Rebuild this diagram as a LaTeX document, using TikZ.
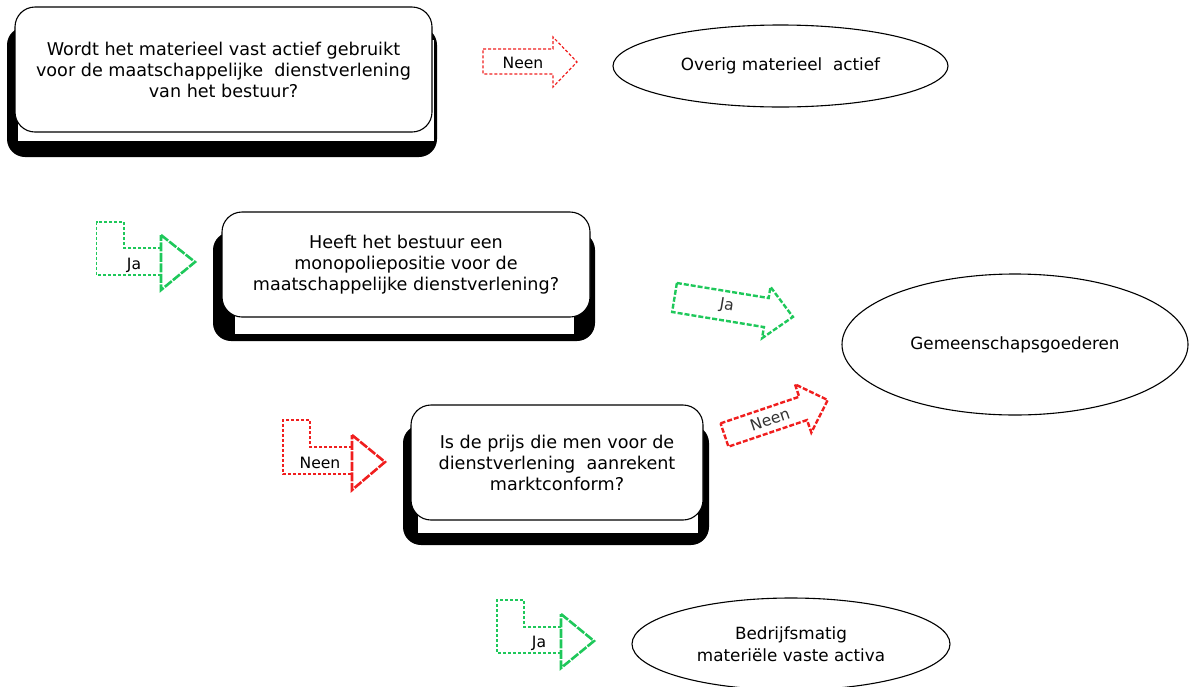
\documentclass[tikz,border=0pt]{standalone}
\usepackage{fontspec}
\setmainfont{DejaVu Sans}
\usetikzlibrary{shapes.geometric}
\definecolor{agreen}{RGB}{30,200,90}
\definecolor{ared}{RGB}{240,30,30}
\definecolor{lblgray}{RGB}{50,50,50}
\newcommand\myqfont{\fontsize{17.6}{21}\selectfont}
\newcommand\myefont{\fontsize{16.8}{21.5}\selectfont}
\newcommand\mylfont{\fontsize{15.6}{18}\selectfont}
\begin{document}
\begin{tikzpicture}[x=1pt,y=-1pt,
  shadowbox/.style={fill=black, rounded corners=18pt},
  qbox/.style={draw=black, line width=1.1pt, fill=white, rounded corners=20pt,
    align=center, inner sep=0pt, font=\myqfont},
  ans/.style={ellipse, draw=black, line width=1.1pt, fill=white, inner sep=0pt,
    align=center, font=\myefont},
  thinarr/.style={dash pattern=on 3pt off 2pt, line width=1.2pt},
  thickhead/.style={line width=2.6pt, dash pattern=on 9pt off 1.5pt, line join=miter},
  thickarr/.style={line width=2.4pt, dash pattern=on 5pt off 2pt, line join=miter},
  lbl/.style={font=\mylfont, inner sep=0pt, text=black},
  rlbl/.style={font=\mylfont, inner sep=0pt, text=lblgray}]
\useasboundingbox (0,0) rectangle (1189,686);
\clip (0,0) rectangle (1189,686);

% ---- question box 1 ----
\fill[shadowbox] (7,27) rectangle (437,157);
\fill[white] (18,40) rectangle (434,141);
\node[qbox, minimum width=417pt, minimum height=125pt] (q1) at (223.5,69.5)
  {Wordt het materieel vast actief gebruikt\\voor de maatschappelijke\ \ dienstverlening\\van het bestuur?};

% ---- question box 2 ----
\fill[shadowbox] (213,232) rectangle (595,341);
\fill[white] (235,300) rectangle (574,334);
\node[qbox, minimum width=368pt, minimum height=105pt] (q2) at (406,264.5)
  {Heeft het bestuur een\\monopoliepositie voor de\\maatschappelijke dienstverlening?};

% ---- question box 3 ----
\fill[shadowbox] (403,425) rectangle (709,545);
\fill[white] (418,500) rectangle (698,533);
\node[qbox, minimum width=292pt, minimum height=115pt] (q3) at (557,462.5)
  {Is de prijs die men voor de\\dienstverlening\ \ aanrekent\\marktconform?};

% ---- answers ----
\node[ans, minimum width=335pt, minimum height=82pt] (e1) at (780.5,66) {Overig materieel\ \ actief};
\node[ans, minimum width=346pt, minimum height=141pt] (e2) at (1015,344.5) {Gemeenschapsgoederen};
\node[ans, minimum width=318pt, minimum height=92pt] (e3) at (791,644) {Bedrijfsmatig\\materiële vaste activa};

% ---- top red arrow "Neen" ----
\draw[ared, thinarr, line join=miter] (483,49) -- (553,49) -- (553,37) -- (577,62) -- (553,87) -- (553,74) -- (483,74) -- cycle;
\node[lbl] (n1) at (523,63) {Neen};

% ---- green L arrow "Ja" (left) ----
\draw[agreen, thinarr] (161,248) -- (124,248) -- (124,222) -- (96.7,222) -- (96.7,275) -- (161,275);
\draw[agreen, thickhead] (161,235) -- (195,262) -- (161,290) -- cycle;
\node[lbl] (j1) at (134,265) {Ja};

% ---- red L arrow "Neen" ----
\draw[ared, thinarr] (352,447) -- (310,447) -- (310,420) -- (283,420) -- (283,474) -- (352,474);
\draw[ared, thickhead] (352,435) -- (385,462) -- (352,490) -- cycle;
\node[lbl] (n2) at (320,463) {Neen};

% ---- green L arrow "Ja" (bottom) ----
\draw[agreen, thinarr] (561,627) -- (524,627) -- (524,600) -- (497,600) -- (497,653) -- (561,653);
\draw[agreen, thickhead] (561,614) -- (594,641) -- (561,668) -- cycle;
\node[lbl] (j3) at (539,643) {Ja};

% ---- rotated green arrow "Ja" ----
\begin{scope}[shift={(674.5,297.5)}, rotate=-9.3]
  \draw[agreen, thickarr] (0,-14.7) -- (93,-14.7) -- (93,-26) -- (120,0) -- (93,26) -- (93,14.7) -- (0,14.7) -- cycle;
  \node[rlbl, rotate=-9.3] (j2) at (53,0) {Ja};
\end{scope}

% ---- rotated red arrow "Neen" ----
\begin{scope}[shift={(724.5,435)}, rotate=18.7]
  \draw[ared, thickarr] (0,-12.3) -- (83,-12.3) -- (83,-25.5) -- (109,0) -- (83,25.5) -- (83,12.3) -- (0,12.3) -- cycle;
  \node[rlbl, rotate=18.7] (n3) at (48,0) {Neen};
\end{scope}
\end{tikzpicture}
\end{document}
